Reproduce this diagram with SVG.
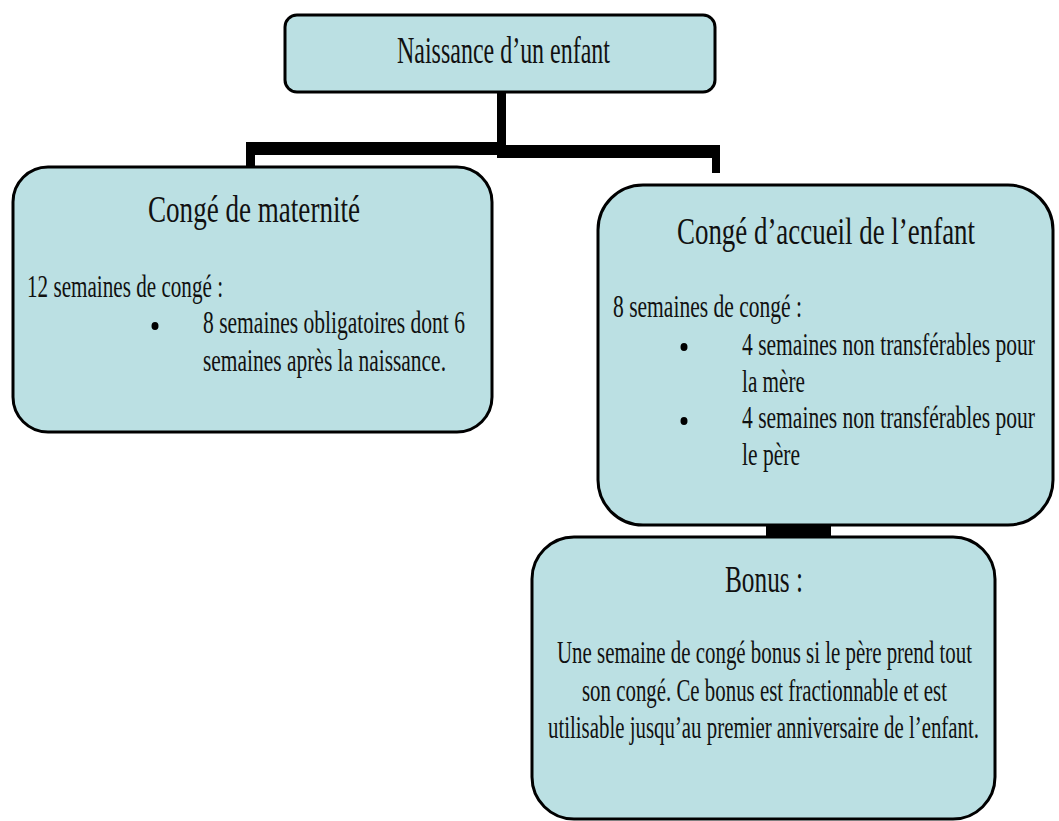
<svg xmlns="http://www.w3.org/2000/svg" width="1059" height="821" viewBox="0 0 1059 821">
<defs>
<style>
.box{fill:#bbe0e3;stroke:#000;stroke-width:3}
.conn{fill:#000}
text{font-family:"Liberation Serif","Times New Roman",serif;fill:#111}
.h{font-size:24px}
.b{font-size:20px}
.dot{fill:#000}
</style>
</defs>
<rect width="1059" height="821" fill="#fff"/>
<g id="connectors">
<rect class="conn" x="497" y="92" width="9" height="63"/>
<rect class="conn" x="246" y="142" width="260" height="13"/>
<rect class="conn" x="246" y="142" width="9" height="25"/>
<rect class="conn" x="497" y="145" width="223" height="13"/>
<rect class="conn" x="712" y="145" width="8" height="28"/>
<rect class="conn" x="766" y="524" width="65" height="13"/>
</g>
<g id="node-naissance">
<rect class="box" x="285" y="15" width="430" height="77" rx="12"/>
<text class="h" transform="translate(397,63) scale(1,1.58)" textLength="213" lengthAdjust="spacingAndGlyphs">Naissance d’un enfant</text>
</g>
<g id="node-maternite">
<rect class="box" x="13" y="167" width="479" height="265" rx="35"/>
<text class="h" transform="translate(148,222) scale(1,1.58)" textLength="212" lengthAdjust="spacingAndGlyphs">Congé de maternité</text>
<text class="b" transform="translate(27,297) scale(1,1.55)" textLength="196" lengthAdjust="spacingAndGlyphs">12 semaines de congé :</text>
<ellipse class="dot" cx="155" cy="326" rx="3.5" ry="4"/>
<text class="b" transform="translate(203,333) scale(1,1.55)" textLength="262" lengthAdjust="spacingAndGlyphs">8 semaines obligatoires dont 6</text>
<text class="b" transform="translate(203,371) scale(1,1.55)" textLength="243" lengthAdjust="spacingAndGlyphs">semaines après la naissance.</text>
</g>
<g id="node-accueil">
<rect class="box" x="598" y="185" width="455" height="340" rx="45"/>
<text class="h" transform="translate(677,244) scale(1,1.58)" textLength="298" lengthAdjust="spacingAndGlyphs">Congé d’accueil de l’enfant</text>
<text class="b" transform="translate(613,317) scale(1,1.55)" textLength="189" lengthAdjust="spacingAndGlyphs">8 semaines de congé :</text>
<ellipse class="dot" cx="684" cy="347" rx="3.5" ry="4"/>
<text class="b" transform="translate(742,355) scale(1,1.55)" textLength="293" lengthAdjust="spacingAndGlyphs">4 semaines non transférables pour</text>
<text class="b" transform="translate(742,392) scale(1,1.55)" textLength="63" lengthAdjust="spacingAndGlyphs">la mère</text>
<ellipse class="dot" cx="684" cy="421" rx="3.5" ry="4"/>
<text class="b" transform="translate(742,428) scale(1,1.55)" textLength="293" lengthAdjust="spacingAndGlyphs">4 semaines non transférables pour</text>
<text class="b" transform="translate(742,465) scale(1,1.55)" textLength="58" lengthAdjust="spacingAndGlyphs">le père</text>
</g>
<g id="node-bonus">
<rect class="box" x="532" y="537" width="463" height="282" rx="42"/>
<text class="h" transform="translate(725,592) scale(1,1.58)" textLength="78" lengthAdjust="spacingAndGlyphs">Bonus :</text>
<text class="b" transform="translate(557,663) scale(1,1.55)" textLength="415" lengthAdjust="spacingAndGlyphs">Une semaine de congé bonus si le père prend tout</text>
<text class="b" transform="translate(582,701) scale(1,1.55)" textLength="365" lengthAdjust="spacingAndGlyphs">son congé. Ce bonus est fractionnable et est</text>
<text class="b" transform="translate(548,738) scale(1,1.55)" textLength="431" lengthAdjust="spacingAndGlyphs">utilisable jusqu’au premier anniversaire de l’enfant.</text>
</g>
</svg>
